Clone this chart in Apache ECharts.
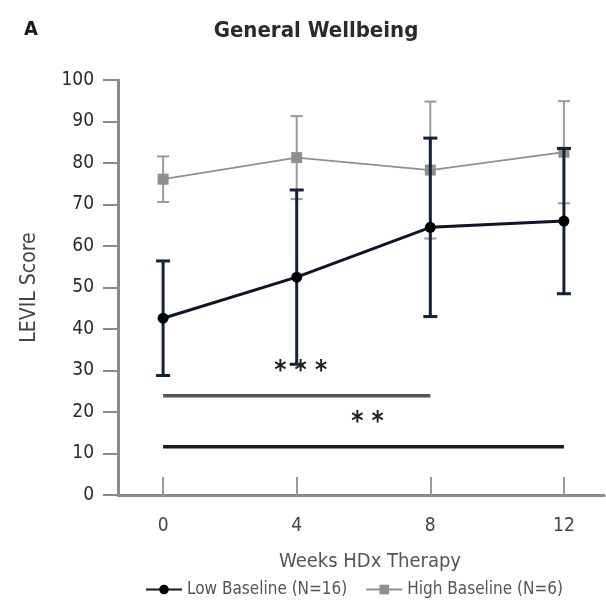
<!DOCTYPE html>
<html><head><meta charset="utf-8">
<script src="https://cdn.jsdelivr.net/npm/echarts@6/dist/echarts.min.js"></script>
<style>html,body{margin:0;padding:0;background:#fff}#c{width:606px;height:604px}</style>
</head><body><div id="c"></div>
<script>
const weeks = [0, 4, 8, 12];
const lowMean = [42.6, 52.5, 64.5, 66.0];
const lowErr = [13.8, 21.0, 21.5, 17.5];
const highMean = [76.1, 81.3, 78.3, 82.6];
const highErr = [5.5, 10.0, 16.5, 12.3];
const sigFrom = [0, 0];
const sigTo = [8, 12];
const sigY = [23.9, 11.6];
const sigText = ['* * *', '* *'];

const FONT = "'Liberation Sans Narrow','DejaVu Sans Condensed','Roboto Condensed','Liberation Sans',sans-serif";

function errRender(color, lw, capW) {
  return function (params, api) {
    const x = api.value(0), m = api.value(1), e = api.value(2);
    const t = api.coord([x, m + e]), b = api.coord([x, m - e]);
    const st = { stroke: color, lineWidth: lw };
    return { type: 'group', children: [
      { type: 'line', shape: { x1: t[0], y1: t[1], x2: b[0], y2: b[1] }, style: st },
      { type: 'line', shape: { x1: t[0] - capW / 2, y1: t[1], x2: t[0] + capW / 2, y2: t[1] }, style: st },
      { type: 'line', shape: { x1: b[0] - capW / 2, y1: b[1], x2: b[0] + capW / 2, y2: b[1] }, style: st }
    ]};
  };
}

const sigColors = ['#555555', '#1a1a1a'];
function sigRender(params, api) {
  const a = api.value(0), b = api.value(1), y = api.value(2);
  const p1 = api.coord([a, y]), p2 = api.coord([b, y]);
  const i = params.dataIndex;
  return { type: 'group', children: [
    { type: 'line', shape: { x1: p1[0], y1: p1[1], x2: p2[0], y2: p2[1] }, style: { stroke: sigColors[i], lineWidth: 3.5 } },
    { type: 'text', style: { text: sigText[i], x: (p1[0] + p2[0]) / 2 + 4, y: p1[1] - 24, align: 'center', verticalAlign: 'middle', font: 'bold 26px ' + FONT, fill: '#222' } }
  ]};
}

const chart = echarts.init(document.getElementById('c'), null, { renderer: 'canvas' });
chart.setOption({
  animation: false,
  backgroundColor: '#fff',
  grid: { left: 118, right: 2, top: 80, bottom: 109, containLabel: false },
  graphic: [
    { type: 'text', left: 24, top: 20, style: { text: 'A', font: 'bold 20px ' + FONT, fill: '#1a1a1a' } },
    { type: 'text', x: 316, y: 31, style: { text: 'General Wellbeing', font: 'bold 22px ' + FONT, fill: '#2a2a2a', align: 'center', verticalAlign: 'middle' } },
    { type: 'text', x: 370, y: 562, style: { text: 'Weeks HDx Therapy', font: '20px ' + FONT, fill: '#555', align: 'center', verticalAlign: 'middle' } }
  ],
  xAxis: {
    type: 'value', min: -1.35, max: 13.2,
    axisLine: { onZero: false, lineStyle: { color: '#8a8a8a', width: 3 } },
    axisTick: { show: true, inside: true, length: 18, customValues: weeks, lineStyle: { color: '#9a9a9a', width: 2 } },
    axisLabel: { customValues: weeks, margin: 22, fontSize: 19, fontFamily: FONT, color: '#444' },
    splitLine: { show: false }
  },
  yAxis: {
    type: 'value', min: 0, max: 100, interval: 10,
    name: 'LEVIL Score', nameLocation: 'middle', nameGap: 78,
    nameTextStyle: { fontSize: 21, fontFamily: FONT, color: '#444' },
    axisLine: { show: true, onZero: false, lineStyle: { color: '#8a8a8a', width: 3 } },
    axisTick: { show: true, length: 15, lineStyle: { color: '#8a8a8a', width: 2 } },
    axisLabel: { margin: 24, fontSize: 19, fontFamily: FONT, color: '#2a2a2a' },
    splitLine: { show: false }
  },
  legend: {
    bottom: 1, left: 140, itemGap: 18, itemWidth: 36, itemHeight: 12,
    textStyle: { fontSize: 17, fontFamily: FONT, color: '#555' },
    data: ['Low Baseline (N=16)', 'High Baseline (N=6)']
  },
  series: [
    { type: 'custom', name: 'highErr', renderItem: errRender('#9a9a9a', 2, 12), data: weeks.map((w, i) => [w, highMean[i], highErr[i]]), z: 1, silent: true },
    { type: 'line', name: 'High Baseline (N=6)', data: weeks.map((w, i) => [w, highMean[i]]), symbol: 'rect', symbolSize: 11,
      lineStyle: { color: '#8f8f8f', width: 1.8 }, itemStyle: { color: '#8f8f8f' }, z: 2 },
    { type: 'custom', name: 'lowErr', renderItem: errRender('#14213a', 3, 14), data: weeks.map((w, i) => [w, lowMean[i], lowErr[i]]), z: 3, silent: true },
    { type: 'line', name: 'Low Baseline (N=16)', data: weeks.map((w, i) => [w, lowMean[i]]), symbol: 'circle', symbolSize: 11,
      lineStyle: { color: '#0d1526', width: 3 }, itemStyle: { color: '#000' }, z: 4 },
    { type: 'custom', name: 'sig', renderItem: sigRender, data: sigFrom.map((f, i) => [f, sigTo[i], sigY[i]]), z: 5, silent: true }
  ]
});
</script>
</body></html>
